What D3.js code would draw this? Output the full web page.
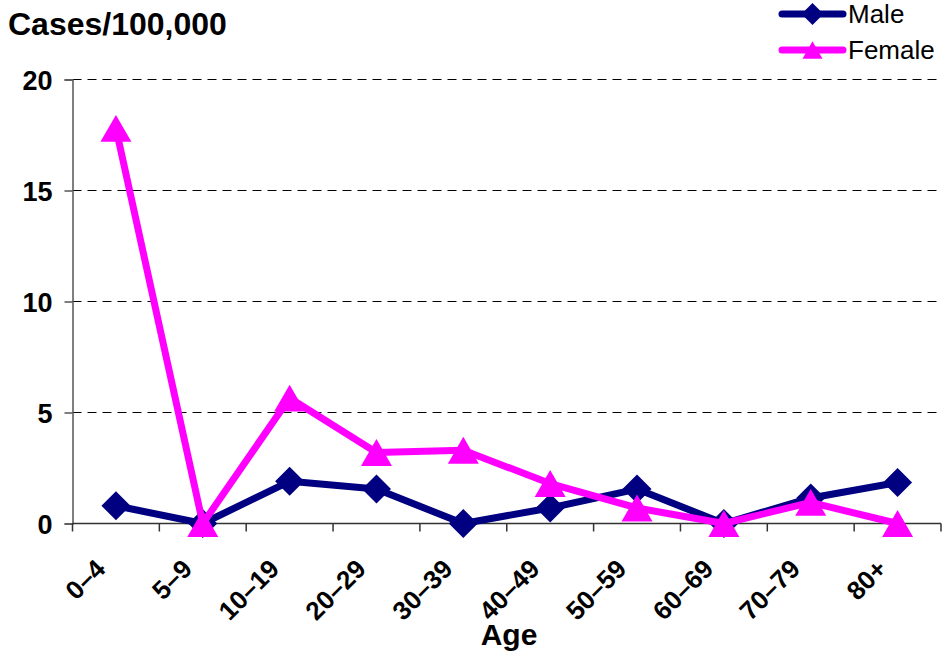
<!DOCTYPE html>
<html>
<head>
<meta charset="utf-8">
<script src="https://d3js.org/d3.v7.min.js"></script>
<style>
  body { margin: 0; background: #fff; }
  svg text { font-family: Arial, "Liberation Sans", sans-serif; fill: #000; }
</style>
</head>
<body>
<svg id="chart" width="943" height="654"></svg>
<script>
/* chart data */
var ageGroups = ["0\u20134", "5\u20139", "10\u201319", "20\u201329", "30\u201339", "40\u201349", "50\u201359", "60\u201369", "70\u201379", "80+"];
var maleRates = [0.8, 0, 1.9, 1.55, 0, 0.7, 1.55, 0, 1.15, 1.85];
var femaleRates = [17.8, 0, 5.65, 3.2, 3.3, 1.8, 0.7, 0, 0.95, 0];
var yTicks = [0, 5, 10, 15, 20];

var svg = d3.select('#chart');

var x = d3.scaleBand().domain(ageGroups).range([72.5, 941]);
var y = d3.scaleLinear().domain([0, 20]).range([523.5, 79.5]);

/* custom marker shapes, sized by half width */
var diamond = {
  draw: function(ctx, r) {
    ctx.moveTo(0, -r); ctx.lineTo(r, 0); ctx.lineTo(0, r); ctx.lineTo(-r, 0); ctx.closePath();
  }
};
var triangle = {
  draw: function(ctx, r) {
    var h = r * 1.732;
    ctx.moveTo(0, -h / 2); ctx.lineTo(r, h / 2); ctx.lineTo(-r, h / 2); ctx.closePath();
  }
};

/* gridlines */
svg.append('g').selectAll('line')
  .data(yTicks.filter(function(d) { return d > 0; }))
  .enter().append('line')
  .attr('x1', 72.5).attr('x2', 941)
  .attr('y1', function(d) { return y(d); })
  .attr('y2', function(d) { return y(d); })
  .attr('stroke', '#000').attr('stroke-width', 1)
  .attr('stroke-dasharray', '9,6');

/* y axis */
var yAxis = d3.axisLeft(y).tickValues(yTicks).tickSize(8).tickPadding(12);
var gy = svg.append('g').attr('transform', 'translate(72.5,0)').call(yAxis);
gy.select('.domain').attr('stroke', '#555').attr('stroke-width', 1.5);
gy.selectAll('.tick line').attr('stroke', '#555').attr('stroke-width', 1.5);
gy.selectAll('.tick text').style('font-size', '27px').style('font-weight', 'bold')
  .attr('dy', '0.36em');

/* x axis: ticks on the category boundaries */
var gx = svg.append('g').attr('transform', 'translate(0,523.5)');
gx.append('line').attr('x1', 72.5).attr('x2', 941).attr('stroke', '#333').attr('stroke-width', 1.5);
var bounds = ageGroups.map(function(d) { return x(d); }).concat([x.range()[1]]);
gx.selectAll('line.tk').data(bounds).enter().append('line').attr('class', 'tk')
  .attr('x1', function(d) { return d; }).attr('x2', function(d) { return d; })
  .attr('y1', 0).attr('y2', 8)
  .attr('stroke', '#333').attr('stroke-width', 1.5);
gx.selectAll('text').data(ageGroups).enter().append('text')
  .attr('transform', function(d) {
    return 'translate(' + (x(d) + x.bandwidth() / 2 - 9) + ',47) rotate(-45)';
  })
  .attr('text-anchor', 'end')
  .style('font-size', '26px').style('font-weight', 'bold')
  .text(function(d) { return d; });

/* axis titles */
svg.append('text').attr('x', 8).attr('y', 35)
  .style('font-size', '32px').style('font-weight', 'bold').text('Cases/100,000');
svg.append('text').attr('x', 509).attr('y', 645).attr('text-anchor', 'middle')
  .style('font-size', '30px').style('font-weight', 'bold').text('Age');

/* series */
var series = [
  { name: 'Male', values: maleRates, color: '#000080', shape: diamond, r: 14.5, lr: 11, ly: 14 },
  { name: 'Female', values: femaleRates, color: '#FF00FF', shape: triangle, r: 15.5, lr: 10, ly: 50 }
];

var line = d3.line()
  .x(function(d, i) { return x(ageGroups[i]) + x.bandwidth() / 2; })
  .y(function(d) { return y(d); });

series.forEach(function(s) {
  var g = svg.append('g');
  g.append('path').datum(s.values)
    .attr('d', line)
    .attr('fill', 'none').attr('stroke', s.color).attr('stroke-width', 7)
    .attr('stroke-linejoin', 'round');
  g.selectAll('path.pt').data(s.values).enter().append('path').attr('class', 'pt')
    .attr('d', d3.symbol().type(s.shape).size(s.r))
    .attr('transform', function(d, i) {
      return 'translate(' + (x(ageGroups[i]) + x.bandwidth() / 2) + ',' + y(d) + ')';
    })
    .attr('fill', s.color);

  /* legend entry */
  var lg = svg.append('g').attr('transform', 'translate(782,' + s.ly + ')');
  lg.append('line').attr('x1', 0).attr('x2', 61)
    .attr('stroke', s.color).attr('stroke-width', 7).attr('stroke-linecap', 'round');
  lg.append('path').attr('d', d3.symbol().type(s.shape).size(s.lr))
    .attr('transform', 'translate(30.5,0)').attr('fill', s.color);
  lg.append('text').attr('x', 66).attr('y', 9)
    .style('font-size', '26px').text(s.name);
});
</script>
</body>
</html>
